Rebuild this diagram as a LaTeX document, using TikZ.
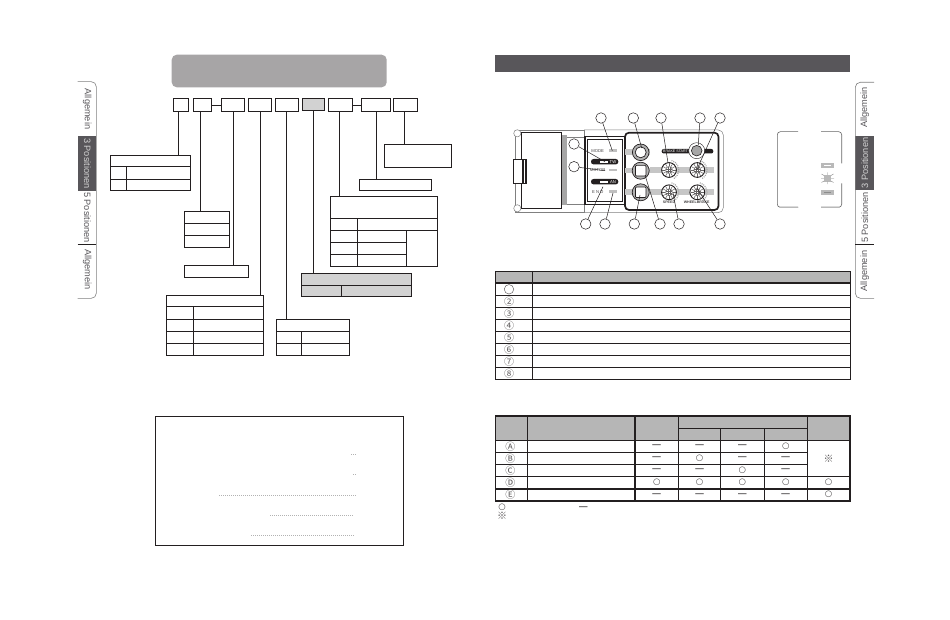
\documentclass[tikz,border=0pt]{standalone}
\usepackage{fontspec}
\setmainfont{Liberation Sans}
\newfontfamily\symfont{DejaVu Sans}
\newfontfamily\keyfont{Noto Sans CJK JP}
\usepackage{xcolor}
\definecolor{tabdark}{HTML}{58565A}
\definecolor{headgrey}{HTML}{A7A5A6}
\definecolor{cellgrey}{HTML}{B6B6B6}
\definecolor{notegrey}{HTML}{D2D2D2}
\definecolor{inkline}{HTML}{231F20}
\newcommand{\dashmark}{{\fontsize{8.5}{9}\rmfamily\bfseries —}}
\tikzset{
  rule/.style={draw=inkline, line width=0.9pt},
  heavyrule/.style={draw=inkline, line width=1.6pt},
  framebox/.style={rule, inner sep=0pt, outer sep=0pt},
  callout/.style={draw=inkline, fill=white, circle, line width=0.5pt, minimum size=10.5pt, inner sep=0pt},
  leader/.style={draw=inkline, line width=0.5pt},
  tabtext/.style={font=\fontsize{9.2}{10}\selectfont, inner sep=0pt},
  tinytext/.style={font=\fontsize{4.2}{5}\selectfont, inner sep=0pt, text=inkline!85},
  symtext/.style={font=\fontsize{10}{11}\keyfont, inner sep=0pt, text=inkline!75},
  marktext/.style={font=\fontsize{8.5}{9}\symfont, inner sep=0pt, text=inkline!85},
  dots/.style={draw=gray!60, line width=0.5pt, dash pattern=on 1pt off 1pt},
}
\begin{document}
\begin{tikzpicture}[x=1pt,y=-1pt]
\useasboundingbox (0,0) rectangle (950,620);

% side tabs, left page
\fill[tabdark] (77.7,136) rectangle (96.3,190.7);
\draw[gray, line width=0.6pt, rounded corners=5pt] (77.7,81.7) -- (96.3,81.7) -- (96.3,298.3) -- (77.7,298.3);
\draw[inkline, line width=0.7pt] (77.7,244.3) -- (96.3,244.3);
\foreach \y/\lbl/\col [count=\i] in {109/Allgemein/tabdark, 163.5/3 Positionen/notegrey, 217.5/5 Positionen/tabdark, 269.5/Allgemein/tabdark}
  \node[tabtext, text=\col, rotate=-90] (ltab\i) at (87.3,\y) {\lbl};

% side tabs, right page
\fill[tabdark] (855.3,136.3) rectangle (874,190);
\draw[gray, line width=0.6pt, rounded corners=5pt] (874,82.3) -- (855.3,82.3) -- (855.3,298.3) -- (874,298.3);
\draw[inkline, line width=0.7pt] (855.3,244.3) -- (874,244.3);
\foreach \y/\lbl/\col [count=\i] in {107.5/Allgemein/tabdark, 163/3 Positionen/notegrey, 217.5/5 Positionen/tabdark, 271/Allgemein/tabdark}
  \node[tabtext, text=\col, rotate=90] (rtab\i) at (864.7,\y) {\lbl};

\node[fill=headgrey, rounded corners=5pt, inner sep=0pt, minimum width=215pt, minimum height=32.6pt] (headleft) at (279.2,71) {};
\node[fill=tabdark, inner sep=0pt, minimum width=355pt, minimum height=17pt] (headright) at (672.5,63.5) {};

% code boxes
\foreach \name/\xa/\xb in {codeA/173.3/188.7, codeB/193.3/211.7, codeC/221.3/244.7, codeD/248.3/271.7, codeE/275.3/298.7, codeG/328.3/352.7, codeH/361.3/390.7, codeI/393.3/417.7}
  \node[framebox, minimum width={(\xb-\xa)*1pt}, minimum height=13.4pt] (\name) at ({(\xa+\xb)/2},105) {};
\node[framebox, fill=notegrey, minimum width=22.4pt, minimum height=12.4pt] (codeF) at (313.5,104.5) {};
\draw[rule] (codeB) -- (codeC);
\draw[rule] (codeG) -- (codeH);

% tables hanging from the code boxes
\foreach \name/\xa/\ya/\xb/\yb in {tabA/110.3/155.3/190.3/190.3, tabB/184.3/211.3/229.3/247.3, tabC/184.3/265.3/248.3/277.3, tabD/166.3/295.3/263.3/355.3, tabE/276.3/319.3/349.7/355.3, tabG/330.3/196.3/437.7/266.3, tabH/359.3/179.3/431.7/190.3, tabI/384.3/144.3/451/167.3}
  \node[framebox, minimum width={(\xb-\xa)*1pt}, minimum height={(\yb-\ya)*1pt}] (\name) at ({(\xa+\xb)/2},{(\ya+\yb)/2}) {};
\node[framebox, fill=notegrey, minimum width=110.4pt, minimum height=23pt] (tabF) at (356.5,284.8) {};

\foreach \code/\tab/\x in {codeA/tabA/178.3, codeB/tabB/200.3, codeC/tabC/233.3, codeD/tabD/260.3, codeE/tabE/286.5, codeF/tabF/313.3, codeG/tabG/339.3, codeH/tabH/376.3, codeI/tabI/404.3}
  \draw[rule] (\x,0 |- \code.south) -- (\x,0 |- \tab.north);

\draw[rule] (110.3,166.3) -- (190.3,166.3) (110.3,179.3) -- (190.3,179.3) (126.3,166.3) -- (126.3,190.3);
\draw[rule] (184.3,223.3) -- (229.3,223.3) (184.3,235.3) -- (229.3,235.3);
\draw[rule] (166.3,306.3) -- (263.3,306.3) (166.3,319.3) -- (263.3,319.3) (166.3,331.3) -- (263.3,331.3) (166.3,343.3) -- (263.3,343.3) (193.3,306.3) -- (193.3,355.3);
\draw[rule] (276.3,331.3) -- (349.7,331.3) (276.3,343.3) -- (349.7,343.3) (301.3,331.3) -- (301.3,355.3);
\draw[rule] (301.3,285.3) -- (411.7,285.3) (341.3,285.3) -- (341.3,296.3);
\draw[rule] (330.3,218.3) -- (437.7,218.3) (330.3,230.3) -- (437.7,230.3) (330.3,242.3) -- (406.3,242.3) (330.3,254.3) -- (406.3,254.3) (357.3,218.3) -- (357.3,266.3) (406.3,230.3) -- (406.3,266.3);

% frame with dotted lines
\node[framebox, minimum width=248pt, minimum height=129pt] (listframe) at (279.3,480.8) {};
\foreach \xa/\xb/\y in {351/357/454.3, 353/357/474.3, 219/356/495, 270/354/515.3, 251/355/535.3}
  \draw[dots] (\xa,\y) -- (\xb,\y);

% the unit
\draw[gray, line width=0.5pt] (515,130) rectangle (584,212.3);
\draw[gray, line width=0.5pt] (567.3,137.3) -- (584,137.3) (567.3,204) -- (584,204);
\draw[inkline, line width=1pt] (521.7,132.3) rectangle (561.7,209);
\fill[gray!70] (561.7,135) rectangle (567.3,205);
\foreach \y in {133.3,208.3} \draw[gray, fill=white, line width=0.5pt] (517.3,\y) circle (3.6pt);
\draw[inkline, fill=white, line width=0.5pt] (513.3,159.3) rectangle (526.7,183.3);
\foreach \x in {522,523.5,525} \draw[inkline, line width=0.4pt] (\x,159.3) -- (\x,183.3);
\draw[gray, line width=0.5pt, rounded corners=5pt] (584,130) -- (723.3,130) -- (723.3,212.7) -- (584,212.7);
\draw[inkline, line width=1.7pt, rounded corners=4pt] (625,132.7) rectangle (718.5,210);
\draw[inkline, line width=1.5pt] (585,136.7) rectangle (624.3,204.3);
\draw[inkline, line width=0.5pt] (587.3,139) rectangle (622.3,201.7);

\foreach \y/\lbl in {150.7/MODE, 170/MOTOR, 191.7/E N D}
  \node[tinytext] (lbl\y) at (597.7,\y) {\lbl};
\fill[gray!50] (609,149.3) rectangle (617,152.3);
\fill[gray!50] (609,169.3) rectangle (617,171);
\fill[gray!50] (609,190) rectangle (617,193);
\foreach \y/\lbl in {161.7/TW, 181.7/AN}{
  \fill[inkline, rounded corners=2.5pt] (591,\y-2.7) rectangle (618.3,\y+2.7);
  \fill[white] (600,\y-1) rectangle (608.3,\y+1);
  \node[tinytext, text=white] (pill\y) at (613,\y) {\lbl};
}

% bars behind the controls
\foreach \xa/\xb/\y in {625/650/152.3, 625/650/170.5, 625/650/192.3, 650/714/170.3, 650/714/192.3}
  \fill[gray!45] (\xa,\y-2.8) rectangle (\xb,\y+2.8);
\draw[inkline, fill=gray!60, line width=0.7pt] (640.7,152.3) circle (8.3pt);
\draw[inkline, fill=white, line width=0.7pt] (640.7,152.3) circle (5.5pt);
\foreach \y in {170.7,192.3}{
  \draw[inkline, fill=gray!60, line width=0.7pt] (640.7,\y) circle (8.5pt);
  \draw[inkline, fill=white, line width=0.7pt, rounded corners=1pt] (635.4,\y-5.3) rectangle (646,\y+5.3);
}
\fill[inkline, rounded corners=2pt] (661.7,149) rectangle (713.3,153.5);
\node[tinytext, text=white, font=\fontsize{3.6}{4}\selectfont] (startlbl) at (675.5,151.2) {BRAKE START};
\draw[inkline, fill=white, line width=0.4pt] (696.7,150.7) circle (8pt);
\draw[inkline, fill=gray!70, line width=0.6pt] (696.7,150.7) circle (5.3pt);
\foreach \x/\y in {669/170, 669/192.3, 697.3/170, 697.3/192.3}{
  \begin{scope}[shift={(\x,\y)}]
    \draw[gray!70, line width=1.2pt, dash pattern=on 1pt off 1pt] (-60:9.8pt) arc[start angle=-60, end angle=75, radius=9.8pt];
    \draw[inkline, fill=white, line width=0.9pt] (0,0) circle (7.4pt);
    \foreach \a in {0,30,...,330} \draw[inkline!70, line width=0.5pt] (\a:3.6pt) -- (\a:6.8pt);
    \draw[inkline!80, fill=white, line width=0.5pt] (0,0) circle (3.4pt);
    \draw[inkline!70, line width=0.4pt] (-3,-1) -- (3,-1) (-3,1) -- (3,1) (-1,-3) -- (-1,3) (1,-3) -- (1,3);
  \end{scope}
}
\node[tinytext, font=\fontsize{3.6}{4}\selectfont\bfseries] (speedlbl) at (669,202.3) {SPEED};
\node[tinytext, font=\fontsize{3.6}{4}\selectfont\bfseries] (wheellbl) at (696.7,202.3) {WHEELBRAKE};

\foreach \x/\y/\tx/\ty [count=\i] in {601/118/612.3/150.7, 633.3/118/641.7/148, 661/118/668/163, 700/118/698.3/145, 720/118/696.7/170, 574/144/605/161.7, 574/166.7/605/170.7, 585.7/224/603/186.7, 605/224/613/193, 634.3/224/640/195, 660/224/645/175, 679/224/673/193, 720/224/696.7/188}{
  \node[callout] (call\i) at (\x,\y) {};
  \coordinate (aim\i) at (\tx,\ty);
  \draw[leader] (call\i) -- (aim\i);
}

% key beside the unit
\draw[gray!80!black, line width=0.6pt, rounded corners=3pt] (798,131.7) -- (777.3,131.7) -- (777.3,207.3) -- (798,207.3);
\draw[gray!80!black, line width=0.6pt, rounded corners=3pt] (821,131.7) -- (841.7,131.7) -- (841.7,163.3);
\draw[gray!80!black, line width=0.6pt, rounded corners=3pt] (841.7,183.3) -- (841.7,207.3) -- (821,207.3);
\fill[gray!55] (779.3,206.6) rectangle (798,208) (821,206.6) rectangle (839.7,208);
\fill[gray!55] (821,163.3) rectangle (834,168);
\fill[white] (824,165) rectangle (831,166.2);
\fill[gray!55] (824,175) rectangle (831,181.7);
\draw[gray, line width=0.4pt] (821,178.3) -- (824,178.3) (831,178.3) -- (834,178.3) (827.5,172.5) -- (827.5,175) (827.5,181.7) -- (827.5,184.2) (821.5,174) -- (824,175.5) (833.5,174) -- (831,175.5) (821.5,182.5) -- (824,181) (833.5,182.5) -- (831,181);
\fill[gray!55] (821,190.3) rectangle (834,195.3);
\fill[gray!90] (824,192.3) rectangle (831,193.3);

% table of controls
\fill[cellgrey] (495.3,271) rectangle (850,283);
\draw[rule] (495.3,271) rectangle (850,379.3);
\foreach \y in {307.3,319.3,331.3,343.3,355.3,367.3} \draw[rule] (495.3,\y) -- (850,\y);
\foreach \y in {283.3,295.3} \draw[heavyrule] (495.3,\y) -- (850,\y);
\draw[rule] (532.3,271) -- (532.3,379.3);
\node[draw=inkline!70, circle, line width=0.5pt, minimum size=9.5pt, inner sep=0pt] (numA) at (509,289.3) {};
\foreach \y/\lbl [count=\i] in {301.3/②, 313.3/③, 325.3/④, 337.3/⑤, 349.3/⑥, 361.3/⑦, 373.3/⑧}
  \node[symtext] (num\i) at (509,\y) {\lbl};

% table of modes
\fill[cellgrey] (495.3,416) rectangle (850,440.3);
\draw[heavyrule] (495.3,416) rectangle (850,500.7);
\foreach \y in {452.3,464.3} \draw[rule] (495.3,\y) -- (807.3,\y);
\foreach \y in {440.3,476.3,488.7} \draw[heavyrule] (495.3,\y) -- (850,\y);
\draw[rule] (678.3,428.3) -- (807.3,428.3);
\draw[rule] (527.3,416) -- (527.3,500.7);
\foreach \x in {635,678.3,807.3} \draw[heavyrule] (\x,416) -- (\x,500.7);
\foreach \x in {720.7,764} \draw[rule] (\x,428.3) -- (\x,500.7);
\foreach \r/\y/\lt/\a/\b/\c/\d in {A/446.3/Ⓐ/\dashmark/\dashmark/\dashmark/○, B/458.3/Ⓑ/\dashmark/○/\dashmark/\dashmark, C/470.3/Ⓒ/\dashmark/\dashmark/○/\dashmark, D/482.5/Ⓓ/○/○/○/○, E/494.7/Ⓔ/\dashmark/\dashmark/\dashmark/\dashmark}{
  \node[symtext] (letter\r) at (510.3,\y) {\lt};
  \node[marktext] (mark\r a) at (656.7,\y) {\a};
  \node[marktext] (mark\r b) at (699.5,\y) {\b};
  \node[marktext] (mark\r c) at (742.3,\y) {\c};
  \node[marktext] (mark\r d) at (785.7,\y) {\d};
}
\node[marktext] (markDe) at (828.6,482.5) {○};
\node[marktext] (markEe) at (828.6,494.7) {○};
\node[symtext] (markAll) at (828.6,458.3) {※};
\node[marktext] (noteA) at (502,507.7) {○};
\node[marktext] (noteB) at (583.3,507.7) {\dashmark};
\node[symtext] (noteC) at (502,515.3) {※};
\end{tikzpicture}
\end{document}
